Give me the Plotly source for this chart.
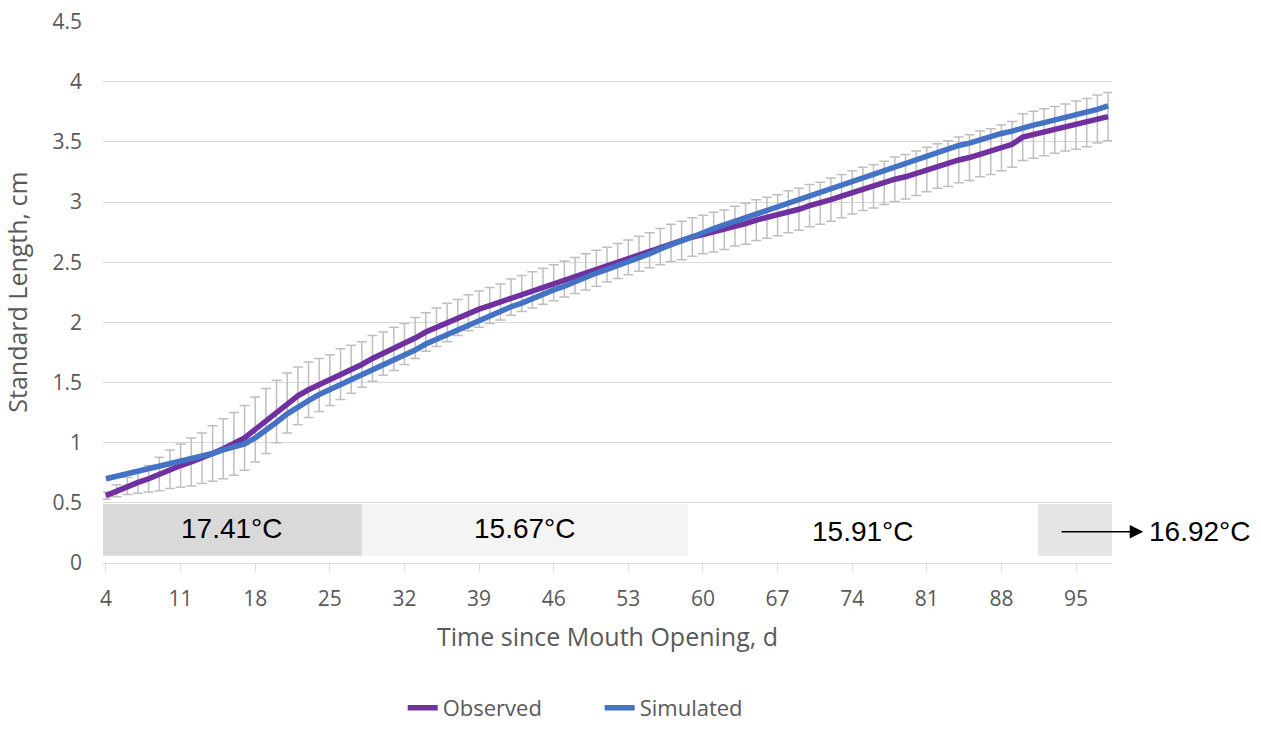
import plotly.graph_objects as go

days = list(range(4, 99))

observed = [
    0.56, 0.60, 0.64, 0.67, 0.70, 0.74, 0.78, 0.81, 0.84, 0.87,   # 4-13
    0.91, 0.95, 0.99, 1.04, 1.11, 1.18, 1.26, 1.33, 1.39, 1.44,   # 14-23
    1.48, 1.52, 1.57, 1.61, 1.65, 1.70, 1.74, 1.78, 1.82, 1.87,   # 24-33
    1.92, 1.96, 2.00, 2.04, 2.08, 2.11, 2.14, 2.17, 2.21, 2.24,   # 34-43
    2.27, 2.30, 2.33, 2.36, 2.39, 2.42, 2.45, 2.48, 2.51, 2.54,   # 44-53
    2.57, 2.60, 2.63, 2.66, 2.68, 2.71, 2.73, 2.75, 2.77, 2.80,   # 54-63
    2.82, 2.85, 2.87, 2.89, 2.92, 2.94, 2.97, 2.99, 3.02, 3.05,   # 64-73
    3.08, 3.11, 3.13, 3.16, 3.19, 3.21, 3.24, 3.27, 3.30, 3.32,   # 74-83
    3.35, 3.37, 3.40, 3.42, 3.45, 3.48, 3.54, 3.56, 3.58, 3.60,   # 84-93
    3.62, 3.64, 3.66, 3.69, 3.71,                                 # 94-98
]

simulated = [
    0.70, 0.72, 0.74, 0.76, 0.78, 0.80, 0.82, 0.84, 0.86, 0.89,   # 4-13
    0.91, 0.94, 0.96, 0.99, 1.04, 1.10, 1.17, 1.24, 1.30, 1.35,   # 14-23
    1.40, 1.44, 1.49, 1.53, 1.57, 1.61, 1.65, 1.69, 1.73, 1.77,   # 24-33
    1.82, 1.86, 1.90, 1.94, 1.98, 2.02, 2.06, 2.09, 2.13, 2.16,   # 34-43
    2.20, 2.23, 2.27, 2.30, 2.34, 2.37, 2.41, 2.44, 2.47, 2.51,   # 44-53
    2.54, 2.57, 2.61, 2.65, 2.68, 2.71, 2.75, 2.78, 2.81, 2.84,   # 54-63
    2.87, 2.91, 2.94, 2.97, 3.00, 3.03, 3.06, 3.09, 3.12, 3.15,   # 64-73
    3.18, 3.21, 3.24, 3.27, 3.30, 3.33, 3.36, 3.39, 3.41, 3.44,   # 74-83
    3.47, 3.49, 3.52, 3.54, 3.57, 3.59, 3.62, 3.64, 3.66, 3.68,   # 84-93
    3.70, 3.72, 3.75, 3.77, 3.80,                                 # 94-98
]

obs_error = [
    0.03, 0.05, 0.07, 0.09, 0.11, 0.14, 0.16, 0.18, 0.20, 0.21,   # 4-13
    0.23, 0.25, 0.26, 0.27, 0.27, 0.27, 0.26, 0.25, 0.24, 0.23,   # 14-23
    0.22, 0.21, 0.21, 0.20, 0.19, 0.19, 0.18, 0.18, 0.17, 0.17,   # 24-33
    0.16, 0.16, 0.16, 0.15, 0.15, 0.15, 0.15, 0.15, 0.15, 0.15,   # 34-43
    0.15, 0.15, 0.15, 0.15, 0.15, 0.15, 0.15, 0.145, 0.145, 0.145,  # 44-53
    0.145, 0.145, 0.15, 0.155, 0.16, 0.16, 0.16, 0.165, 0.165, 0.165,  # 54-63
    0.17, 0.17, 0.17, 0.17, 0.175, 0.175, 0.175, 0.175, 0.18, 0.18,   # 64-73
    0.18, 0.18, 0.18, 0.18, 0.185, 0.185, 0.185, 0.185, 0.185, 0.19,  # 74-83
    0.19, 0.19, 0.19, 0.19, 0.19, 0.19, 0.195, 0.195, 0.195, 0.195,   # 84-93
    0.195, 0.2, 0.2, 0.2, 0.2,                                        # 94-98
]

x_tick_vals = list(range(4, 99, 7))
y_tick_vals = [0, 0.5, 1, 1.5, 2, 2.5, 3, 3.5, 4, 4.5]
y_tick_text = ["0", "0.5", "1", "1.5", "2", "2.5", "3", "3.5", "4", "4.5"]

# temperature periods (day boundaries) and mean temperatures
period_edges = [3.72, 28.0, 58.6, 91.4, 98.37]
period_temps = ["17.41°C", "15.67°C", "15.91°C", "16.92°C"]
period_colors = ["#d9d9d9", "#f4f4f4", "#ffffff", "#e6e6e6"]

GRAY = "#595959"
FONT = "Open Sans"

fig = go.Figure()
fig.add_trace(go.Scatter(
    x=days, y=observed, mode="lines", name="Observed",
    line=dict(color="#7030A0", width=5.5),
    error_y=dict(type="data", array=obs_error, visible=True,
                 color="#bfbfbf", thickness=1.5, width=5),
))
fig.add_trace(go.Scatter(
    x=days, y=simulated, mode="lines", name="Simulated",
    line=dict(color="#4472C4", width=5.5),
))

for i, col in enumerate(period_colors):
    fig.add_shape(type="rect", xref="x", yref="y",
                  x0=period_edges[i], x1=period_edges[i + 1],
                  y0=0.06, y1=0.49, fillcolor=col, line=dict(width=0),
                  layer="below")

label_y = [0.29, 0.29, 0.26]
for i in range(3):
    fig.add_annotation(x=(period_edges[i] + period_edges[i + 1]) / 2, y=label_y[i],
                       xref="x", yref="y", text=period_temps[i], showarrow=False,
                       font=dict(family="Liberation Sans", size=28, color="black"))

# arrow pointing to last period label
fig.add_annotation(x=101.3, y=0.26, ax=93.5, ay=0.26, xref="x", yref="y",
                   axref="x", ayref="y", text="", showarrow=True,
                   arrowhead=2, arrowsize=1.8, arrowwidth=1.5, arrowcolor="black")
fig.add_annotation(x=1.0345, y=0.26, xref="paper", yref="y", xanchor="left",
                   text=period_temps[3], showarrow=False,
                   font=dict(family="Liberation Sans", size=28, color="black"))

fig.update_layout(
    width=1261, height=729,
    margin=dict(l=103, r=149, t=21, b=166),
    paper_bgcolor="white", plot_bgcolor="white",
    font=dict(family=FONT, color=GRAY),
    showlegend=True,
    legend=dict(orientation="h", x=0.297, xanchor="left",
                yref="container", y=-0.012, yanchor="bottom",
                font=dict(family=FONT, size=22, color=GRAY),
                entrywidth=152, entrywidthmode="pixels",
                traceorder="normal"),
    xaxis=dict(
        range=[3.72, 98.37], tickvals=x_tick_vals, showgrid=False, zeroline=False,
        showline=True, linecolor="#d9d9d9", linewidth=1, automargin=False,
        ticks="outside", ticklen=7, tickcolor="#d9d9d9",
        tickfont=dict(family=FONT, size=21, color=GRAY), ticklabelstandoff=10,
        title=dict(text="Time since Mouth Opening, d", standoff=17,
                   font=dict(family=FONT, size=25, color=GRAY)),
    ),
    yaxis=dict(
        range=[0, 4.505], tickvals=y_tick_vals, ticktext=y_tick_text,
        showgrid=True, gridcolor="#d9d9d9", gridwidth=1, zeroline=False,
        showline=False, ticks="", ticklabelstandoff=20, automargin=False,
        tickfont=dict(family=FONT, size=21, color=GRAY),
        title=dict(text="Standard Length, cm", standoff=18,
                   font=dict(family=FONT, size=25, color=GRAY)),
    ),
)

fig.write_html("out.html")
